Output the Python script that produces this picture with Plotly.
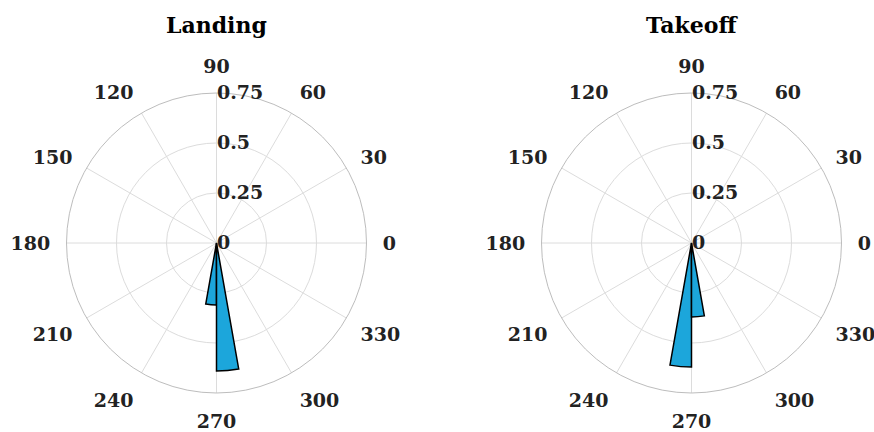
import plotly.graph_objects as go

W, H = 874, 432
titles = ["Landing", "Takeoff"]
bin_centers_landing = [265, 275]
values_landing = [0.31, 0.64]
bin_centers_takeoff = [265, 275]
values_takeoff = [0.62, 0.37]
bin_width = 10
r_ticks = [0, 0.25, 0.5, 0.75]
r_tick_labels = ["0", "0.25", "0.5", "0.75"]
theta_ticks = list(range(0, 360, 30))

FONT = "DejaVu Serif"
fig = go.Figure()
series = [(bin_centers_landing, values_landing), (bin_centers_takeoff, values_takeoff)]
for i, (th, r) in enumerate(series):
    fig.add_trace(go.Barpolar(
        r=r, theta=th, width=[bin_width] * len(th),
        marker=dict(color="#1CA6DB", line=dict(color="black", width=1.5)),
        subplot="polar" if i == 0 else "polar2", showlegend=False))

centers = [216.5, 691.5]
cy = 243
rad = 150
for i, cx in enumerate(centers):
    key = "polar" if i == 0 else "polar2"
    fig.layout[key] = dict(
        domain=dict(x=[(cx - rad) / W, (cx + rad) / W], y=[(H - cy - rad) / H, (H - cy + rad) / H]),
        bgcolor="white",
        angularaxis=dict(
            rotation=0, direction="counterclockwise",
            tickvals=theta_ticks, ticktext=[str(t) for t in theta_ticks],
            tickfont=dict(family=FONT, size=19, color="#222222", weight="bold"),
            showgrid=True, gridcolor="#dcdcdc", gridwidth=1,
            showline=True, linecolor="#bdbdbd", linewidth=1,
            ticks="outside", ticklen=12, tickcolor="rgba(0,0,0,0)",
            layer="above traces"),
        radialaxis=dict(
            range=[0, 0.75], tickvals=r_ticks, ticktext=r_tick_labels,
            angle=90, side="clockwise", tickangle=90,
            tickfont=dict(family=FONT, size=19, color="#222222", weight="bold"),
            showgrid=True, gridcolor="#dcdcdc", gridwidth=1,
            showline=False, ticks="", layer="above traces",
        ),
    )
    fig.add_annotation(x=cx / W, y=1 - 25 / H, xref="paper", yref="paper",
                       yanchor="middle", xanchor="center",
                       text="<b>%s</b>" % titles[i], showarrow=False,
                       font=dict(family=FONT, size=22, color="black"))

fig.update_layout(width=W, height=H, margin=dict(l=0, r=0, t=0, b=0),
                  paper_bgcolor="white", font=dict(family=FONT, color="#222222"))
fig.write_html("out.html", config={"displayModeBar": False},
               post_script="document.body.style.margin='0';")
